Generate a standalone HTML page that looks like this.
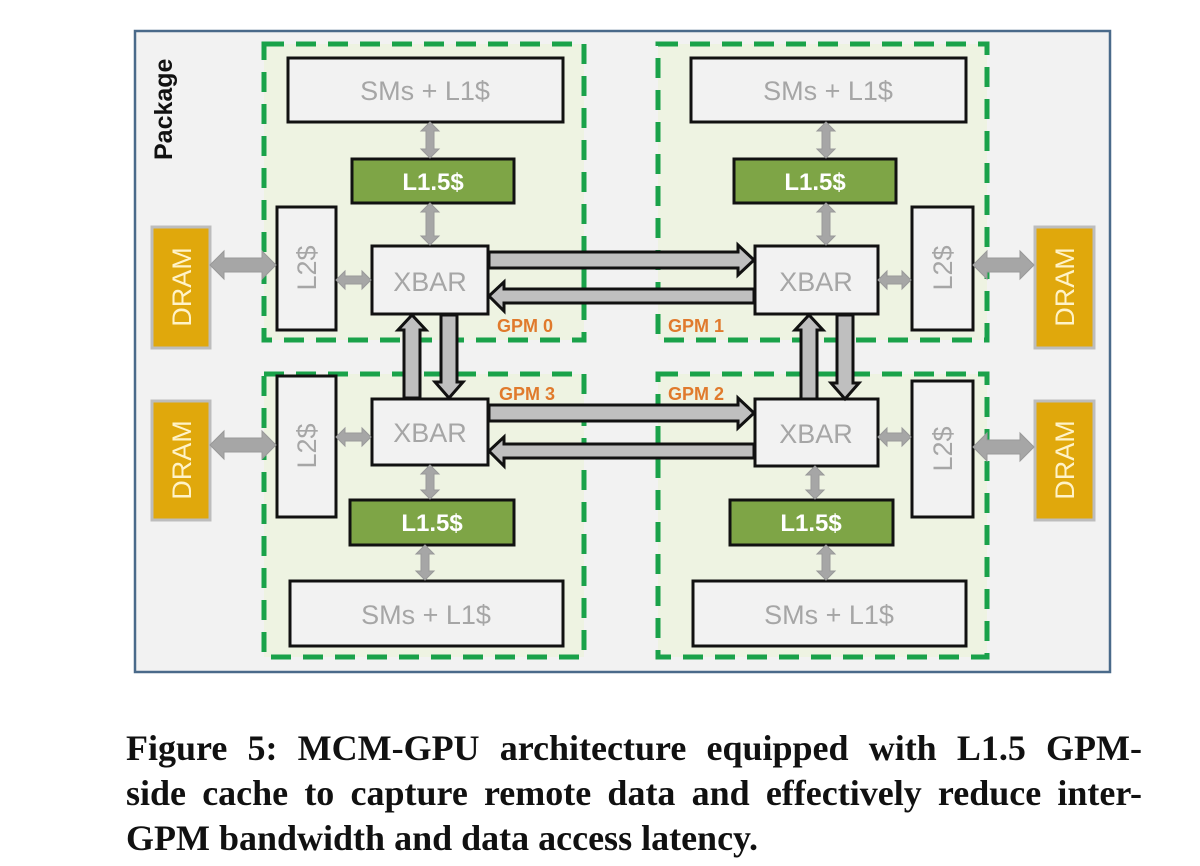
<!DOCTYPE html>
<html><head><meta charset="utf-8"><style>
html,body{margin:0;padding:0;background:#fff;width:1200px;height:866px;overflow:hidden}
.cap{position:absolute;left:126px;width:1016px;font-family:"Liberation Serif",serif;font-weight:bold;font-size:36px;line-height:40px;color:#111;white-space:nowrap}
.j{text-align:justify;text-align-last:justify}
</style></head><body>
<svg width="1200" height="866" style="position:absolute;left:0;top:0" font-family="Liberation Sans, sans-serif">
<rect x="135" y="31" width="975" height="641" fill="#f2f2f2" stroke="#4a6a8a" stroke-width="2.5"/>
<text transform="translate(172,160) rotate(-90)" font-size="25" font-weight="bold" fill="#111">Package</text>
<g fill="#eef3e2" stroke="#1aa24a" stroke-width="5" stroke-dasharray="20,12">
<rect x="264" y="44" width="320" height="296"/>
<rect x="658" y="44" width="329" height="296"/>
<rect x="264" y="374" width="320" height="283"/>
<rect x="658" y="374" width="329" height="283"/>
</g>
<g fill="#f2f2f2" stroke="#111" stroke-width="3">
<rect x="288" y="58" width="275" height="64"/>
<rect x="691" y="58" width="275" height="64"/>
<rect x="290" y="581" width="273" height="65"/>
<rect x="693" y="581" width="273" height="65"/>
<rect x="372" y="246" width="116" height="68"/>
<rect x="755" y="246" width="123" height="68"/>
<rect x="372" y="399" width="116" height="66"/>
<rect x="755" y="399" width="123" height="67"/>
<rect x="277" y="207" width="59" height="123"/>
<rect x="912" y="207" width="61" height="123"/>
<rect x="277" y="376" width="59" height="141"/>
<rect x="912" y="381" width="61" height="136"/>
</g>
<g fill="#7ea546" stroke="#111" stroke-width="3">
<rect x="352" y="159" width="162" height="44"/>
<rect x="734" y="159" width="162" height="44"/>
<rect x="350" y="500" width="164" height="45"/>
<rect x="730" y="500" width="163" height="45"/>
</g>
<g fill="#e0a80c" stroke="#bdbdbd" stroke-width="3">
<rect x="152" y="227" width="58" height="121"/>
<rect x="1035" y="227" width="59" height="121"/>
<rect x="152" y="401" width="58" height="119"/>
<rect x="1035" y="401" width="59" height="119"/>
</g>
<g font-size="27" fill="#a6a6a6" text-anchor="middle">
<text x="425" y="100">SMs + L1$</text>
<text x="828" y="100">SMs + L1$</text>
<text x="426" y="624">SMs + L1$</text>
<text x="829" y="624">SMs + L1$</text>
<text x="430" y="291">XBAR</text>
<text x="816" y="291">XBAR</text>
<text x="430" y="442">XBAR</text>
<text x="816" y="443">XBAR</text>
<text transform="translate(316,268) rotate(-90)">L2$</text>
<text transform="translate(952,268) rotate(-90)">L2$</text>
<text transform="translate(316,446) rotate(-90)">L2$</text>
<text transform="translate(952,449) rotate(-90)">L2$</text>
</g>
<g font-size="27" fill="#fff3c8" text-anchor="middle">
<text transform="translate(191,287) rotate(-90)">DRAM</text>
<text transform="translate(1074,287) rotate(-90)">DRAM</text>
<text transform="translate(191,460) rotate(-90)">DRAM</text>
<text transform="translate(1074,460) rotate(-90)">DRAM</text>
</g>
<g font-size="24" font-weight="bold" fill="#fff" text-anchor="middle">
<text x="433" y="190">L1.5$</text>
<text x="815" y="190">L1.5$</text>
<text x="432" y="531">L1.5$</text>
<text x="811" y="531">L1.5$</text>
</g>
<g font-size="18" font-weight="bold" fill="#e07a2c">
<text x="497" y="332">GPM 0</text>
<text x="668" y="332">GPM 1</text>
<text x="499" y="400">GPM 3</text>
<text x="668" y="400">GPM 2</text>
</g>
<g fill="#a6a6a6" stroke="#999" stroke-width="1">
<polygon points="430,122 439,131 434,131 434,149 439,149 430,158 421,149 426,149 426,131 421,131"/>
<polygon points="430,203 439,212 434,212 434,236 439,236 430,245 421,236 426,236 426,212 421,212"/>
<polygon points="826,122 835,131 830,131 830,149 835,149 826,158 817,149 822,149 822,131 817,131"/>
<polygon points="826,203 835,212 830,212 830,236 835,236 826,245 817,236 822,236 822,212 817,212"/>
<polygon points="430,465 439,474 434,474 434,490 439,490 430,499 421,490 426,490 426,474 421,474"/>
<polygon points="425,545 434,554 429,554 429,571 434,571 425,580 416,571 421,571 421,554 416,554"/>
<polygon points="815,466 824,475 819,475 819,490 824,490 815,499 806,490 811,490 811,475 806,475"/>
<polygon points="826,545 835,554 830,554 830,571 835,571 826,580 817,571 822,571 822,554 817,554"/>
<polygon points="336,280 345,271 345,276 362,276 362,271 371,280 362,289 362,284 345,284 345,289"/>
<polygon points="878,280 887,271 887,276 902,276 902,271 911,280 902,289 902,284 887,284 887,289"/>
<polygon points="336,437 345,428 345,433 362,433 362,428 371,437 362,446 362,441 345,441 345,446"/>
<polygon points="878,437 887,428 887,433 902,433 902,428 911,437 902,446 902,441 887,441 887,446"/>
<polygon points="210,265 224,251 224,258 262,258 262,251 276,265 262,279 262,272 224,272 224,279"/>
<polygon points="973,265 987,251 987,258 1020,258 1020,251 1034,265 1020,279 1020,272 987,272 987,279"/>
<polygon points="210,445 224,431 224,438 262,438 262,431 276,445 262,459 262,452 224,452 224,459"/>
<polygon points="973,447 987,433 987,440 1020,440 1020,433 1034,447 1020,461 1020,454 987,454 987,461"/>
</g>
<g fill="#bfbfbf" stroke="#111" stroke-width="3" stroke-linejoin="miter">
<polygon points="489,252 738,252 738,245 754,260 738,275 738,268 489,268"/>
<polygon points="754,289 504,289 504,282 489,296 504,311 504,303 754,303"/>
<polygon points="489,405 738,405 738,398 754,413 738,428 738,421 489,421"/>
<polygon points="754,444 504,444 504,437 489,451 504,466 504,458 754,458"/>
<polygon points="404,398 404,330 398,330 412,315 426,330 420,330 420,398"/>
<polygon points="441,315 441,382 435,382 449,398 463,382 457,382 457,315"/>
<polygon points="801,399 801,330 795,330 809,315 823,330 817,330 817,399"/>
<polygon points="837,315 837,383 831,383 845,399 859,383 853,383 853,315"/>
</g>
</svg>
<div class="cap j" style="top:728px">Figure 5: MCM-GPU architecture equipped with L1.5 GPM-</div>
<div class="cap j" style="top:773px">side cache to capture remote data and effectively reduce inter-</div>
<div class="cap" style="top:818px">GPM bandwidth and data access latency.</div>
</body></html>
